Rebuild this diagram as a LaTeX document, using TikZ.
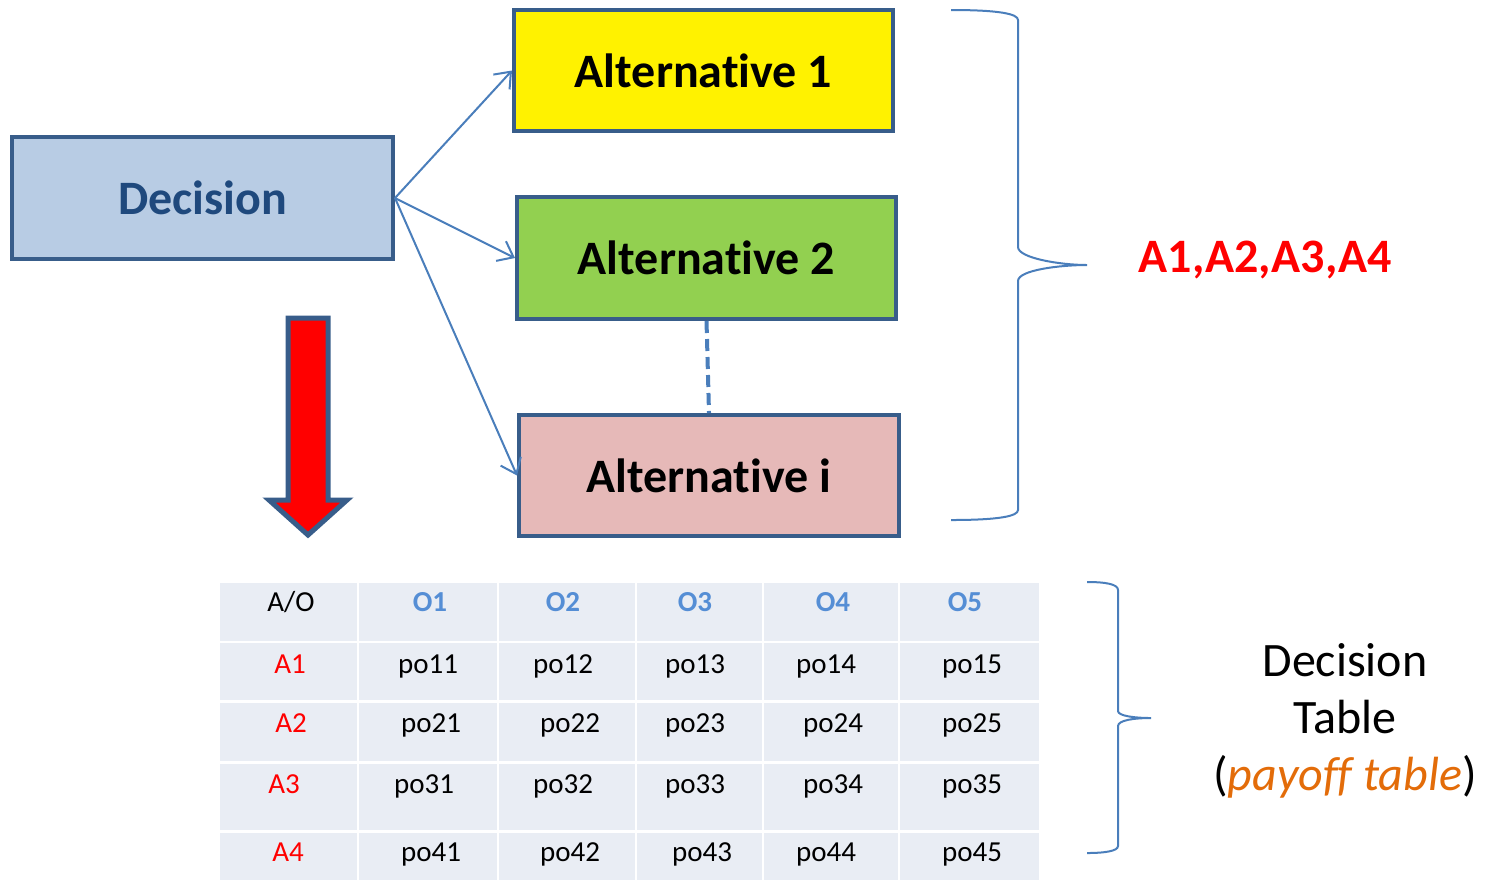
\documentclass[tikz,border=0pt]{standalone}
\usepackage{fontspec}
\setmainfont{Carlito}[Ligatures=NoCommon]
\usetikzlibrary{arrows.meta}
\definecolor{bord}{HTML}{385D8A}
\definecolor{decfill}{HTML}{B8CCE4}
\definecolor{dectext}{HTML}{1F497D}
\definecolor{altgreen}{HTML}{92D050}
\definecolor{altpink}{HTML}{E6B9B8}
\definecolor{conn}{HTML}{4A7EBB}
\definecolor{cellfill}{HTML}{E9EDF4}
\definecolor{headblue}{HTML}{558ED5}
\definecolor{payoff}{HTML}{E36C09}
\tikzset{
  box/.style={draw=bord, line width=2pt, minimum width=189.5pt, minimum height=60.5pt, inner sep=0pt, font=\fontsize{24}{28}\selectfont\bfseries},
  conn/.style={draw=conn, line width=1pt, -{Straight Barb[length=7pt,width=11pt]}},
  ctext/.style={font=\fontsize{14.5}{17}\selectfont, inner sep=0pt, anchor=center, text height=10pt, text depth=3pt},
  htext/.style={ctext, font=\fontsize{14.5}{17}\selectfont\bfseries, text=headblue},
  rtext/.style={ctext, text=red},
  brace/.style={draw=conn, line width=1pt}
}
\begin{document}
\begin{tikzpicture}[x=0.5pt,y=-0.5pt]
\useasboundingbox (0,0) rectangle (1491,880);
% boxes
\node[box, fill=decfill, text=dectext, minimum width=190.5pt, minimum height=61pt] (dec) at (202.5,198) {Decision};
\node[box, fill=yellow] (a1) at (703.5,70.5) {Alternative 1};
\node[box, fill=altgreen, minimum height=61pt] (a2) at (706.5,258) {Alternative 2};
\node[box, fill=altpink, minimum width=190pt] (ai) at (709,475.5) {Alternative i};
% connectors
\draw[conn] (dec.east) -- (a1.west);
\draw[conn] (dec.east) -- (a2.west);
\draw[conn] (dec.east) -- (ai.west);
\draw[draw=conn, line width=2pt, dash pattern=on 6pt off 3pt] (a2.south) -- (ai.north);
% red arrow
\draw[fill=red, draw=bord, line width=2.5pt, line join=miter]
  (288,318) -- (328,318) -- (328,500) -- (347,500) -- (308,535) -- (269,500) -- (288,500) -- cycle;
% brace 1
\draw[brace] (951,10) .. controls (1000,10) and (1018,14) .. (1018,20) -- (1018,247)
  .. controls (1018,258) and (1060,265) .. (1087,265)
  .. controls (1060,265) and (1018,270) .. (1018,281) -- (1018,510)
  .. controls (1018,516) and (1000,520) .. (951,520);
\node[font=\fontsize{24}{28}\selectfont\bfseries, text=red, inner sep=0pt] (alist) at (1265,260) {A1,A2,A3,A4};
% table cells
\foreach \xa/\xb in {220/357,359/497,499/635,637/762,764/898,900/1039}{
  \foreach \ya/\yb in {583/641,643/700,703/761,764/830,833/880}{
    \fill[cellfill] (\xa,\ya) rectangle (\xb,\yb);
  }
}
% header
\node[ctext] (h0) at (291,604) {A/O};
\node[htext] (h1) at (430,604) {O1};
\node[htext] (h2) at (563,604) {O2};
\node[htext] (h3) at (695,604) {O3};
\node[htext] (h4) at (833,604) {O4};
\node[htext] (h5) at (965,604) {O5};
% row 1
\node[rtext] (r1) at (290,666) {A1};
\node[ctext] (p11) at (428,666) {po11};
\node[ctext] (p12) at (563,666) {po12};
\node[ctext] (p13) at (695,666) {po13};
\node[ctext] (p14) at (826,666) {po14};
\node[ctext] (p15) at (972,666) {po15};
% row 2
\node[rtext] (r2) at (291,725) {A2};
\node[ctext] (p21) at (431,725) {po21};
\node[ctext] (p22) at (570,725) {po22};
\node[ctext] (p23) at (695,725) {po23};
\node[ctext] (p24) at (833,725) {po24};
\node[ctext] (p25) at (972,725) {po25};
% row 3
\node[rtext] (r3) at (284,786) {A3};
\node[ctext] (p31) at (424,786) {po31};
\node[ctext] (p32) at (563,786) {po32};
\node[ctext] (p33) at (695,786) {po33};
\node[ctext] (p34) at (833,786) {po34};
\node[ctext] (p35) at (972,786) {po35};
% row 4
\node[rtext] (r4) at (288,854) {A4};
\node[ctext] (p41) at (431,854) {po41};
\node[ctext] (p42) at (570,854) {po42};
\node[ctext] (p43) at (702,854) {po43};
\node[ctext] (p44) at (826,854) {po44};
\node[ctext] (p45) at (972,854) {po45};
% brace 2
\draw[brace] (1087,582) .. controls (1105,582) and (1118,584) .. (1118,590) -- (1118,711)
  .. controls (1118,716) and (1135,718) .. (1151,718)
  .. controls (1135,718) and (1118,720) .. (1118,726) -- (1118,846)
  .. controls (1118,851) and (1105,853) .. (1087,853);
\node[font=\fontsize{24}{28.5}\selectfont, align=center, inner sep=0pt] (dt) at (1345,721)
  {Decision\\Table\\(\textcolor{payoff}{\itshape payoff table})};
\end{tikzpicture}
\end{document}
